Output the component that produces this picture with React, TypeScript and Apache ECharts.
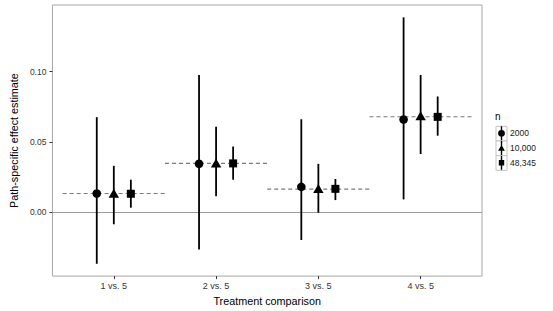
import React, { useEffect, useRef } from "react";
import * as echarts from "echarts";

const categories = ["1 vs. 5", "2 vs. 5", "3 vs. 5", "4 vs. 5"];
const sampleSizes = ["2000", "10,000", "48,345"];
const trueEffect = [0.0134, 0.0348, 0.0165, 0.068];

const est2000 = [0.0134, 0.0345, 0.0181, 0.066];
const lo2000 = [-0.0366, -0.0265, -0.0197, 0.0092];
const hi2000 = [0.0677, 0.0977, 0.0662, 0.1387];

const est10000 = [0.0132, 0.0347, 0.0166, 0.0683];
const lo10000 = [-0.0085, 0.0115, -0.0002, 0.0415];
const hi10000 = [0.0331, 0.0608, 0.0345, 0.0977];

const est48345 = [0.0132, 0.0348, 0.0167, 0.0679];
const lo48345 = [0.0033, 0.0232, 0.0087, 0.0545];
const hi48345 = [0.0232, 0.0468, 0.0237, 0.0824];

const yTicks = [0, 0.05, 0.1];

const FONT = "Liberation Sans";

const groups = [
  { name: sampleSizes[0], est: est2000, lo: lo2000, hi: hi2000, shape: "circle" },
  { name: sampleSizes[1], est: est10000, lo: lo10000, hi: hi10000, shape: "triangle" },
  { name: sampleSizes[2], est: est48345, lo: lo48345, hi: hi48345, shape: "square" },
];

const dodge = [-1 / 6, 0, 1 / 6];

const legendIcons: Record<string, string> = {
  circle:
    "path://M2.8,0H4.2V14H2.8Z M3.5,3.6A3.4,3.4 0 1,1 3.5,10.4A3.4,3.4 0 1,1 3.5,3.6Z M0,7L0.01,7Z M7,7L6.99,7Z",
  triangle:
    "path://M2.8,0H4.2V14H2.8Z M3.5,3.8L6.9,9.8H0.1Z M0,7L0.01,7Z M7,7L6.99,7Z",
  square:
    "path://M2.8,0H4.2V14H2.8Z M0.8,4.3H6.2V9.7H0.8Z M0,7L0.01,7Z M7,7L6.99,7Z",
};

function shapeEl(shape: string, cx: number, cy: number) {
  if (shape === "circle") {
    return { type: "circle", shape: { cx, cy, r: 4.3 }, style: { fill: "#000" } };
  }
  if (shape === "triangle") {
    return {
      type: "polygon",
      shape: {
        points: [
          [cx, cy - 5],
          [cx + 5.2, cy + 4],
          [cx - 5.2, cy + 4],
        ],
      },
      style: { fill: "#000" },
    };
  }
  return {
    type: "rect",
    shape: { x: cx - 4, y: cy - 4, width: 8, height: 8 },
    style: { fill: "#000" },
  };
}

export default function App() {
  const ref = useRef<HTMLDivElement>(null);

  useEffect(() => {
    if (!ref.current) return;
    const chart = echarts.init(ref.current, undefined, { renderer: "svg" });

    const allLo = Math.min(...lo2000, ...lo10000, ...lo48345);
    const allHi = Math.max(...hi2000, ...hi10000, ...hi48345);
    const pad = (allHi - allLo) * 0.05;
    const yMin = allLo - pad;
    const yMax = allHi + pad;

    const truthSeries = {
      type: "custom",
      name: "truth",
      z: 2,
      data: trueEffect.map((v, i) => [i + 1, v]),
      encode: { x: 0, y: 1 },
      renderItem: (params: any, api: any) => {
        const x = api.value(0);
        const v = api.value(1);
        const a = api.coord([x - 0.5, v]);
        const b = api.coord([x + 0.5, v]);
        return {
          type: "line",
          shape: { x1: a[0], y1: a[1], x2: b[0], y2: b[1] },
          style: { stroke: "#7a7a7a", lineWidth: 1.1, lineDash: [4, 3] },
        };
      },
      markLine: {
        silent: true,
        symbol: "none",
        label: { show: false },
        lineStyle: { color: "#9a9a9a", width: 1, type: "solid" },
        data: [{ yAxis: 0 }],
        z: 1,
      },
    };

    const pointSeries = groups.map((g, gi) => ({
      type: "custom",
      name: g.name,
      z: 3,
      itemStyle: { color: "#000" },
      data: categories.map((_, i) => [i + 1, g.est[i], g.lo[i], g.hi[i]]),
      encode: { x: 0, y: [1, 2, 3] },
      renderItem: (params: any, api: any) => {
        const x = api.value(0) + dodge[gi];
        const c = api.coord([x, api.value(1)]);
        const lo = api.coord([x, api.value(2)]);
        const hi = api.coord([x, api.value(3)]);
        return {
          type: "group",
          children: [
            {
              type: "line",
              shape: { x1: lo[0], y1: lo[1], x2: hi[0], y2: hi[1] },
              style: { stroke: "#000", lineWidth: 1.8 },
            },
            shapeEl(g.shape, c[0], c[1]),
          ],
        };
      },
    }));

    chart.setOption({
      animation: false,
      textStyle: { fontFamily: FONT },
      grid: {
        left: 42,
        right: 71,
        top: 5,
        bottom: 32,
        show: true,
        borderColor: "#a6a6a6",
        borderWidth: 1,
        backgroundColor: "transparent",
      },
      xAxis: {
        type: "value",
        min: 0.4,
        max: 4.6,
        name: "Treatment comparison",
        nameLocation: "middle",
        nameGap: 16,
        nameTextStyle: { fontSize: 10.8, color: "#000", fontFamily: FONT },
        axisLine: { show: false, onZero: false },
        splitLine: { show: false },
        axisTick: {
          show: true,
          length: 3,
          customValues: [1, 2, 3, 4],
          lineStyle: { color: "#333" },
        },
        axisLabel: {
          customValues: [1, 2, 3, 4],
          formatter: (v: number) => categories[Math.round(v) - 1] ?? "",
          fontSize: 9,
          color: "#333",
          margin: 5,
          fontFamily: FONT,
        },
      },
      yAxis: {
        type: "value",
        min: yMin,
        max: yMax,
        name: "Path-specific effect estimate",
        nameLocation: "middle",
        nameGap: 25,
        nameRotate: 90,
        nameTextStyle: { fontSize: 10.8, color: "#000", fontFamily: FONT },
        axisLine: { show: false, onZero: false },
        splitLine: { show: false },
        axisTick: {
          show: true,
          length: 3,
          customValues: yTicks,
          lineStyle: { color: "#333" },
        },
        axisLabel: {
          customValues: yTicks,
          formatter: (v: number) => v.toFixed(2),
          fontSize: 8.5,
          color: "#333",
          margin: 6,
          fontFamily: FONT,
        },
      },
      legend: {
        orient: "vertical",
        left: 498,
        top: 126.3,
        padding: 0,
        itemWidth: 7,
        itemHeight: 14,
        itemGap: 0.7,
        selectedMode: false,
        z: 5,
        textStyle: { fontSize: 8.5, color: "#1a1a1a", fontFamily: FONT },
        data: groups.map((g) => ({ name: g.name, icon: legendIcons[g.shape] })),
      },
      graphic: [
        {
          type: "text",
          left: 495,
          top: 111,
          z: 5,
          style: { text: "n", fontSize: 10, fill: "#000", fontFamily: FONT },
        },
        ...groups.map((g, k) => ({
          type: "rect",
          z: 0,
          shape: { x: 496, y: 126.3 + k * 14.7, width: 11, height: 14.7 },
          style: { fill: "#fff", stroke: "#c4c4c4", lineWidth: 1 },
        })),
      ],
      series: [truthSeries, ...pointSeries],
    });

    return () => chart.dispose();
  }, []);

  return (
    <div
      ref={ref}
      style={{ position: "fixed", left: 0, top: 0, width: 553, height: 311, background: "#fff" }}
    />
  );
}
